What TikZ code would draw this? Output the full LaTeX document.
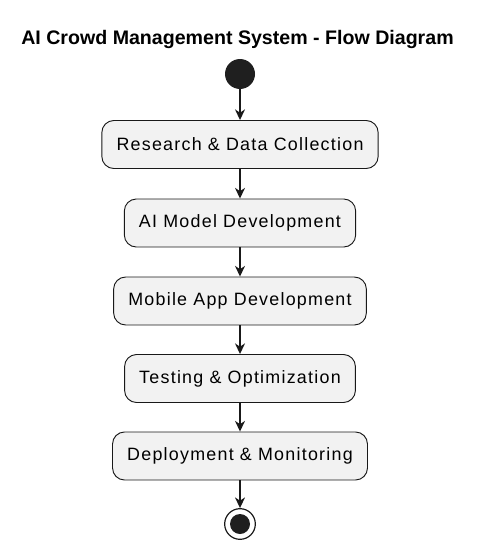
\documentclass[tikz,border=0pt]{standalone}
\usepackage{fontspec}
\setmainfont{Liberation Sans}
\usetikzlibrary{arrows.meta,positioning}

\tikzset{
	actbox/.style={draw=black!90, fill=black!5, line width=0.7pt, rounded corners=9pt,
		minimum height=36pt, inner xsep=11pt, font=\fontsize{13.4}{16}\selectfont\addfontfeature{LetterSpace=7}},
	flow/.style={-{Stealth[length=8pt, width=7.5pt, inset=2.5pt]}, line width=1pt, black!90}
}

\begin{document}
\begin{tikzpicture}[x=0.75pt, y=-0.75pt]
	\useasboundingbox (0,0) rectangle (484,553);
	% Title
	\node[anchor=base, font=\fontsize{14.7}{17}\selectfont\bfseries] (title) at (237.5,44) {AI Crowd Management System - Flow Diagram};
	
	% Start and end points
	\node[circle, fill=black!88, minimum size=22.5pt, inner sep=0pt] (start) at (240,74) {};
	\node[circle, draw=black!90, line width=0.9pt, minimum size=23pt, inner sep=0pt] (stop) at (240,524) {};
	\fill[black!88] (stop.center) circle (7.5pt);
	
	% Activities
	\node[actbox] (research) at (240,144.5) {Research \& Data Collection};
	\node[actbox] (model) at (240,223) {AI Model Development};
	\node[actbox] (app) at (240,301) {Mobile App Development};
	\node[actbox] (testing) at (240,378.5) {Testing \& Optimization};
	\node[actbox] (deploy) at (240,456) {Deployment \& Monitoring};
	
	% Flow
	\draw[flow] (start) -- (research);
	\draw[flow] (research) -- (model);
	\draw[flow] (model) -- (app);
	\draw[flow] (app) -- (testing);
	\draw[flow] (testing) -- (deploy);
	\draw[flow] (deploy) -- (stop);
\end{tikzpicture}
\end{document}
